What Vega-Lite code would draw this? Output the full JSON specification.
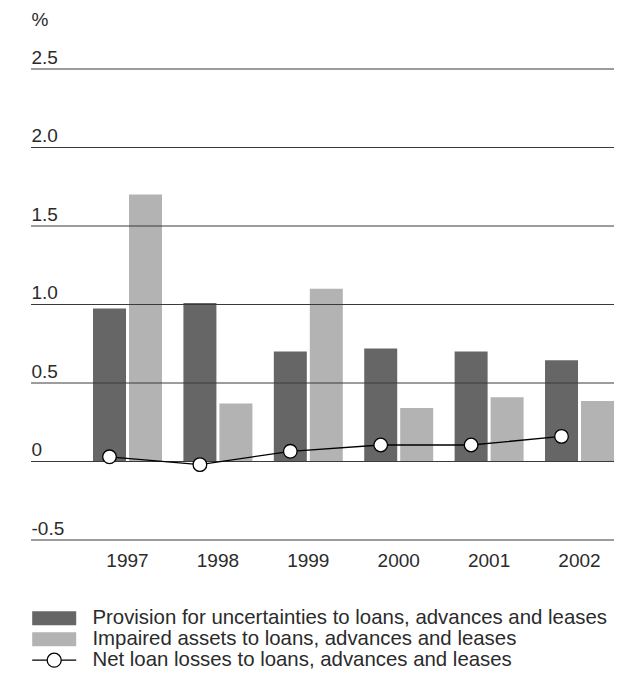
{
  "$schema": "https://vega.github.io/schema/vega-lite/v6.json",
  "autosize": {"type": "none"},
  "padding": {"left": 31, "top": 69, "right": 13, "bottom": 141},
  "width": 583,
  "height": 471,
  "datasets": {
    "bars": [
      {"year": "1997", "series": "Provision for uncertainties to loans, advances and leases", "value": 0.975},
      {"year": "1997", "series": "Impaired assets to loans, advances and leases", "value": 1.70},
      {"year": "1998", "series": "Provision for uncertainties to loans, advances and leases", "value": 1.01},
      {"year": "1998", "series": "Impaired assets to loans, advances and leases", "value": 0.37},
      {"year": "1999", "series": "Provision for uncertainties to loans, advances and leases", "value": 0.70},
      {"year": "1999", "series": "Impaired assets to loans, advances and leases", "value": 1.10},
      {"year": "2000", "series": "Provision for uncertainties to loans, advances and leases", "value": 0.72},
      {"year": "2000", "series": "Impaired assets to loans, advances and leases", "value": 0.34},
      {"year": "2001", "series": "Provision for uncertainties to loans, advances and leases", "value": 0.70},
      {"year": "2001", "series": "Impaired assets to loans, advances and leases", "value": 0.41},
      {"year": "2002", "series": "Provision for uncertainties to loans, advances and leases", "value": 0.645},
      {"year": "2002", "series": "Impaired assets to loans, advances and leases", "value": 0.385}
    ],
    "losses": [
      {"year": "1997", "value": 0.03},
      {"year": "1998", "value": -0.02},
      {"year": "1999", "value": 0.065},
      {"year": "2000", "value": 0.105},
      {"year": "2001", "value": 0.105},
      {"year": "2002", "value": 0.16}
    ],
    "grid": [
      {"value": -0.5}, {"value": 0}, {"value": 0.5}, {"value": 1.0},
      {"value": 1.5}, {"value": 2.0}, {"value": 2.5}
    ]
  },
  "encoding": {
    "y": {
      "field": "value",
      "type": "quantitative",
      "scale": {"domain": [-0.5, 2.5], "nice": false, "zero": false},
      "axis": {
        "values": [-0.5, 0, 0.5, 1, 1.5, 2, 2.5],
        "grid": false,
        "domain": false,
        "ticks": false,
        "tickSize": 0,
        "labelAlign": "left",
        "labelBaseline": "alphabetic",
        "labelPadding": 0,
        "labelOffset": -6,
        "labelOverlap": false,
        "labelFlush": false,
        "labelBound": false,
        "labelExpr": "datum.value === 0 ? '0' : (datum.value < 0 ? '-' + format(-datum.value, '.1f') : format(datum.value, '.1f'))",
        "title": "%",
        "titleAngle": 0,
        "titleX": 0,
        "titleY": -44,
        "titleAlign": "left",
        "titleBaseline": "alphabetic"
      }
    }
  },
  "layer": [
    {
      "data": {"name": "bars"},
      "mark": {"type": "bar"},
      "encoding": {
        "x": {
          "field": "year",
          "type": "nominal",
          "scale": {"paddingInner": 0.237, "paddingOuter": 0.343, "align": 1},
          "axis": {"title": null, "domain": false, "ticks": false, "labelAngle": 0, "labelPadding": 11, "labelBaseline": "top"}
        },
        "xOffset": {
          "field": "series",
          "type": "nominal",
          "sort": ["Provision for uncertainties to loans, advances and leases", "Impaired assets to loans, advances and leases"],
          "scale": {"paddingInner": 0.083, "paddingOuter": 0}
        },
        "color": {
          "field": "series",
          "type": "nominal",
          "scale": {
            "domain": ["Provision for uncertainties to loans, advances and leases", "Impaired assets to loans, advances and leases", "Net loan losses to loans, advances and leases"],
            "range": ["#666666", "#b3b3b3", "#ffffff"]
          },
          "legend": {
            "orient": "none",
            "legendX": 13,
            "legendY": 539,
            "direction": "vertical",
            "title": null,
            "padding": 0,
            "symbolSize": 196,
            "labelOffset": 28,
            "labelLimit": 0,
            "rowPadding": -1,
            "symbolStrokeWidth": 1.3,
            "encode": {
              "symbols": {
                "update": {
                  "shape": {"signal": "datum.value === 'Net loan losses to loans, advances and leases' ? 'M-3.143,0H-1M1,0H3.143M1,0A1,1 0 1,1 -1,0A1,1 0 1,1 1,0Z' : 'M-3.143,-1H3.143V1H-3.143Z'"},
                  "stroke": {"signal": "datum.value === 'Net loan losses to loans, advances and leases' ? '#000000' : 'transparent'"},
                  "strokeWidth": {"value": 1.3}
                }
              }
            }
          }
        }
      }
    },
    {
      "data": {"name": "grid"},
      "mark": {"type": "rule", "color": "#3a3a3a", "strokeWidth": 1},
      "encoding": {}
    },
    {
      "data": {"name": "losses"},
      "mark": {"type": "line", "strokeWidth": 1.3, "color": "#000000"},
      "encoding": {
        "x": {"field": "year", "type": "nominal", "bandPosition": 0.239}
      }
    },
    {
      "data": {"name": "losses"},
      "mark": {"type": "point", "filled": true, "fill": "#ffffff", "stroke": "#000000", "strokeWidth": 1.3, "size": 185, "opacity": 1},
      "encoding": {
        "x": {"field": "year", "type": "nominal", "bandPosition": 0.239}
      }
    }
  ],
  "config": {
    "view": {"stroke": null},
    "font": "Liberation Sans",
    "axis": {"labelFontSize": 19, "labelColor": "#2b2b2b", "titleFontSize": 19, "titleColor": "#2b2b2b", "titleFontWeight": "normal", "labelFont": "Liberation Sans", "titleFont": "Liberation Sans"},
    "legend": {"labelFontSize": 20.4, "labelColor": "#2b2b2b", "labelFont": "Liberation Sans"}
  }
}
